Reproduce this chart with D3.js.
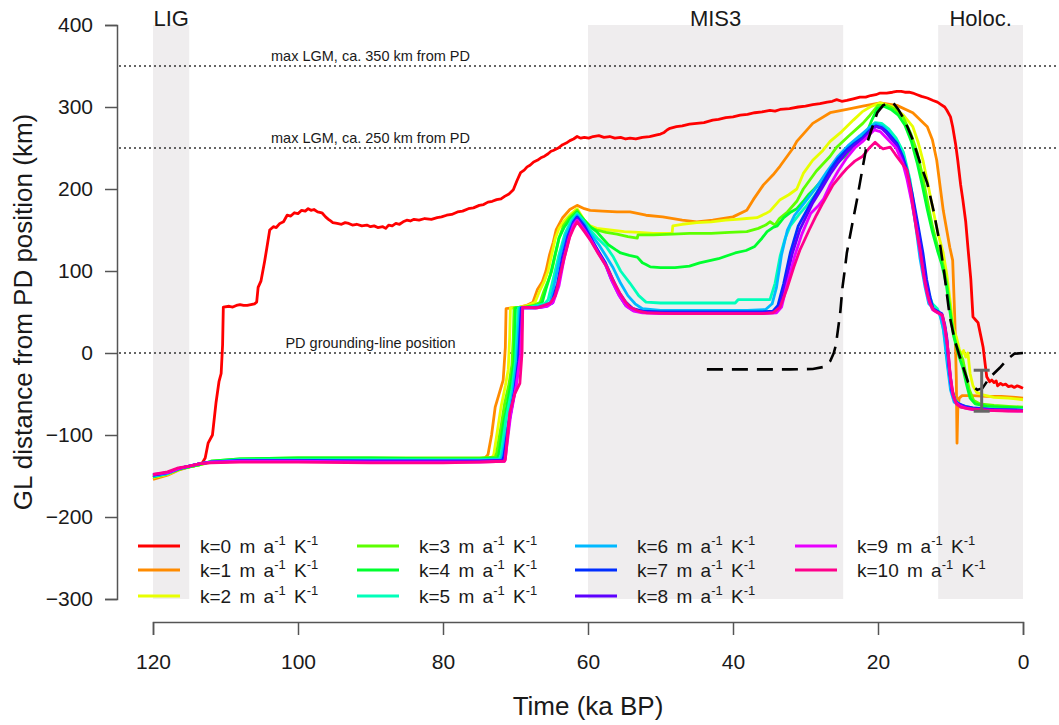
<!DOCTYPE html>
<html><head><meta charset="utf-8">
<script src="https://cdn.jsdelivr.net/npm/d3@7"></script>
<style>body{margin:0;background:#fff} svg{display:block} text{font-family:"Liberation Sans",Arial,Helvetica,sans-serif;fill:#1a1a1a}</style>
</head><body><svg id="c" width="1059" height="725"></svg>
<script>
// ---------------- DATA ----------------
const kValues = [0,1,2,3,4,5,6,7,8,9,10];
const seriesColors = ["#FF0000","#FF8B00","#E8FF00","#5DFF00","#00FF2E","#00FFB9","#00B9FF","#002EFF","#5D00FF","#E800FF","#FF008B"];

const gl_k0 = [[120,-152],[118.5,-148],[117,-143],[116,-140],[114.5,-138],[113.2,-134],[112.8,-128],[112.4,-110],[111.8,-100],[111.3,-60],[110.9,-35],[110.6,-25],[110.4,10],[110.3,56],[109.5,57],[109,56],[108.5,58],[108,59],[107.5,58],[107,58],[106.5,59],[106,60],[105.7,62],[105.5,80],[105.1,88],[104.6,112],[104.3,128],[103.9,150],[103.4,154],[103,153],[102.5,158],[102,160],[101.5,168],[101,167],[100.5,171],[100,170],[99.5,174],[99,173],[98.6,176],[98.2,174],[97.8,175],[97.3,172],[96.7,171],[96.2,166],[95.8,163],[95.5,161],[95.2,159],[94.6,158],[94,157],[93.5,159],[93,158],[92.5,156],[91.9,157],[91.2,155],[90.5,156],[90,154],[89.5,155],[89,153],[88.3,154],[87.9,152],[87.5,156],[87,155],[86.5,158],[86,157],[85.5,160],[85,162],[84.5,161],[84,163],[83.3,162],[82.5,164],[81.6,163],[80.8,165],[80.2,166],[79.5,168],[78.8,169],[78,172],[77.3,173],[76.5,176],[75.8,177],[75,180],[74.4,181],[73.8,184],[73.2,185],[72.6,187],[72,188],[71.5,191],[70.9,194],[70.3,199],[69.8,210],[69.3,220],[68.8,223],[68.4,227],[68,229],[67.5,233],[67,235],[66.5,238],[66,240],[65.5,243],[65.1,246],[64.8,247],[64.1,250],[63.5,254],[63,256],[62.5,259],[62,261],[61.5,264],[61,262],[60.5,263],[59.9,262],[59.3,264],[58.5,265],[57.8,263],[57,264],[56.3,262],[55.5,263],[54.8,261],[54.2,262],[53.4,261],[52.5,263],[51.5,264],[50.5,266],[50,267],[49.5,269],[49.1,272],[48.7,274],[47.8,276],[47,277],[46,279],[45,280],[44,281],[42.8,284],[42,285],[41,287],[40,288],[39,290],[38,291],[37,293],[36,294],[34.9,296],[34.2,295],[33.5,297],[32.2,298],[31,300],[30,301],[29,303],[28,304],[27,306],[26.3,307],[25.7,309],[25,307],[24.3,308],[23.4,310],[22.5,312],[21.7,312],[21,314],[20.3,315],[19.7,317],[18.8,317],[18,318],[17.4,319],[16.8,319],[16.3,318],[15.7,318],[15.2,317],[14.6,315],[14,313],[13.2,311],[12.4,308],[11.8,306],[11.3,303],[10.8,300],[10.5,296],[10,288],[9.7,276],[9.3,255],[9.0,235],[8.6,205],[8.3,187],[7.9,160],[7.6,129],[7.2,90],[6.9,44],[6.5,40],[6.2,37],[5.8,20],[5.5,7],[5.2,-15],[5.0,-29],[4.6,-35],[4.3,-33],[4.0,-36],[3.7,-34],[3.5,-40],[3.1,-37],[2.8,-39],[2.4,-38],[2.0,-41],[1.6,-40],[1.2,-42],[0.8,-40],[0.5,-41],[0,-43]];

const gl_k1 = [[120,-154],[118,-149],[116.5,-143],[115,-139],[113.5,-136],[112,-133],[108,-131],[104,-130],[100,-130],[95,-130],[90,-131],[85,-131],[80,-131],[76,-130],[74.2,-128],[73.8,-124],[73.3,-100],[72.8,-66],[72.2,-48],[71.7,-33],[71.4,7],[71.3,54],[70.5,55],[69.4,56],[68.5,58],[67.6,62],[67.0,77],[66.3,87],[65.8,100],[65.3,120],[64.8,135],[64.4,150],[63.5,165],[62.5,175],[61.5,180],[60.5,176],[59.7,174],[58,173],[56,172],[54.2,172],[52,168],[49.7,166],[47,162],[45,160],[42.8,162],[40,166],[38.1,174],[37.2,187],[35.8,205],[34.5,217],[33.5,228],[31.7,250],[31.2,258],[29,280],[26.6,293],[24.3,297],[22.1,301],[19.7,305],[17.4,302],[15.2,293],[13.2,276],[12.5,260],[11.9,235],[11.0,174],[10.1,129],[9.7,113],[9.4,40],[9.2,-30],[9.1,-110],[9.0,-70],[8.8,-55],[8.4,-52],[7,-52],[5,-53],[3,-53],[1,-54],[0,-55]];

const gl_k2 = [[120,-152],[118,-148],[116.5,-142],[115,-139],[113.5,-136],[112,-133],[108,-131],[100,-130],[90,-130],[80,-130],[75,-130],[73.3,-128],[73.0,-124],[72.5,-95],[72,-66],[71.4,-40],[71.0,-20],[70.8,20],[70.7,55],[69.5,56],[68.3,58],[67.3,62],[66.7,75],[66,88],[65.5,100],[65,120],[64.5,140],[64,152],[63.2,162],[62.3,170],[61.5,176],[60.5,162],[59.7,155],[58.8,152],[57,150],[55,148],[53,147],[51,146],[48.4,146],[48.3,155],[47,157],[45,159],[43,160],[41,162],[39.5,163],[38.1,164],[36.7,165],[35.5,170],[34.9,173],[33.5,187],[32.3,193],[31.2,200],[30.3,219],[29,235],[27.6,247],[26.6,258],[25,270],[23.4,284],[22.2,294],[21.1,300],[19.7,305],[17.9,300],[16.5,290],[15.2,276],[14.5,258],[13.8,235],[13.1,205],[12.4,174],[11.7,145],[11.0,122],[10.5,95],[10,60],[9.6,30],[9.2,20],[8.8,5],[8.5,-2],[8.2,3],[7.9,-5],[7.6,0],[7.3,-25],[6.9,-40],[6.4,-48],[5.5,-51],[4,-54],[2,-55],[0,-57]];

const gl_k3 = [[120,-151],[118,-147],[116.5,-142],[115,-139],[113.5,-136],[112,-132],[108,-129],[100,-128],[90,-128],[80,-128],[75,-128],[72.8,-127],[72.6,-122],[72.0,-90],[71.5,-62],[70.9,-38],[70.5,-15],[70.3,20],[70.2,55],[68.8,56],[67.5,58],[66.6,62],[66.1,75],[65.5,88],[65,100],[64.5,120],[64,140],[63.4,155],[62.6,165],[61.5,174],[60.5,160],[59.7,153],[58.8,150],[57.5,147],[56,145],[54.5,142],[53.2,140],[53.1,144],[51,144],[48.3,145],[46,146],[43,146],[40.5,147],[38.1,148],[36.5,152],[35.5,156],[34.9,160],[34.2,156],[33.6,164],[32.5,172],[31.2,185],[30.3,200],[28.5,222],[26.6,240],[25.7,251],[24,265],[22.1,280],[21.1,290],[20,302],[18.8,302],[17.6,297],[16.5,287],[15.5,268],[14.6,245],[13.9,218],[13.2,186],[12.5,155],[11.8,130],[11.1,110],[10.5,85],[10,50],[9.5,20],[9.1,8],[8.7,0],[8.3,-8],[7.9,-25],[7.4,-45],[6.8,-58],[6,-62],[4,-64],[2,-65],[0,-66]];

const gl_k4 = [[120,-151],[118,-147],[116.5,-142],[115,-139],[113.5,-136],[112,-132],[108,-129],[100,-128],[90,-128],[80,-129],[75,-129],[72.5,-128],[72.3,-123],[71.7,-88],[71.1,-60],[70.6,-35],[70.2,-10],[70.0,55],[68.5,56],[67,58],[66.3,62],[65.8,78],[65.2,95],[64.6,118],[64,140],[63.3,153],[62.5,163],[61.5,172],[60.5,162],[59.7,154],[58.8,148],[58,140],[57.2,132],[56.2,126],[55.5,122],[54.3,119],[53.2,117],[52.5,110],[52,108],[51.4,105],[50,104],[48,104],[46,106],[44.6,110],[42,115],[39.7,122],[38.2,125],[37,130],[36,140],[35.3,148],[34.5,153],[33.9,155],[33,165],[32,172],[31.2,176],[30.2,186],[29.5,194],[28.8,200],[27.6,212],[26.6,222],[25.5,233],[24.5,240],[23.5,248],[22.5,257],[21.6,268],[20.8,285],[20.1,298],[19.2,301],[18.2,297],[17.2,290],[16.3,278],[15.4,258],[14.6,232],[13.9,205],[13.2,175],[12.5,148],[11.8,125],[11.2,108],[10.6,85],[10.1,52],[9.6,22],[9.2,8],[8.8,-5],[8.3,-18],[7.8,-38],[7.3,-55],[6.6,-62],[5,-65],[3,-66],[0,-67]];

const gl_k5 = [[120,-150],[118,-147],[116.5,-141],[115,-138],[113.5,-135],[112,-133],[108,-130],[100,-130],[90,-130],[80,-130],[75,-130],[72.2,-129],[72.0,-124],[71.3,-80],[70.5,-45],[70.0,-10],[69.6,55],[68,56],[66,60],[65.5,65],[64.8,90],[64,120],[63.2,145],[62.3,162],[61.5,170],[60.5,160],[59.7,150],[58.7,140],[57.5,130],[56.5,117],[55.5,100],[54.2,85],[53,70],[52,62],[50,61],[47,61],[44,61],[41,61],[39.7,61],[39.3,65],[36,65],[34.9,65],[34.2,85],[33.5,118],[32.8,140],[32.1,155],[30.8,170],[29.8,180],[28.5,195],[27,215],[25.5,235],[24,250],[22.5,262],[21.2,274],[20.4,281],[19.5,280],[18.5,273],[17.5,262],[16.5,245],[15.6,212],[14.9,172],[14.3,132],[13.7,100],[13.1,75],[12.5,60],[11.8,54],[11.3,42],[10.8,20],[10.3,-20],[9.8,-45],[9.3,-58],[8.5,-64],[7,-67],[5,-68],[2,-69],[0,-69]];

const gl_k6 = [[120,-150],[118,-147],[116.5,-141],[115,-138],[113.5,-135],[112,-133],[108,-131],[100,-131],[90,-131],[80,-131],[75,-131],[72,-130],[71.8,-125],[71,-85],[70.3,-45],[69.8,-10],[69.4,55],[67.5,56],[66,58],[65.2,62],[64.5,90],[63.8,120],[63,145],[62.2,160],[61.5,168],[60.5,158],[59.7,146],[58.5,132],[57.5,118],[56.6,105],[55.5,85],[54.5,70],[53.5,60],[52.5,54],[50,52],[46,52],[42,52],[38,52],[35.5,53],[34.6,60],[34,80],[33.3,120],[32.5,150],[31.5,168],[30,185],[28.5,202],[27,222],[25.5,240],[24,254],[22.5,265],[21.2,275],[20.3,280],[19.3,276],[18.2,265],[17.2,252],[16.3,230],[15.5,195],[14.8,155],[14.2,115],[13.5,80],[13,60],[12.2,53],[11.5,48],[11,30],[10.5,-10],[10,-45],[9.5,-60],[8.5,-66],[7,-68],[4,-69],[0,-70]];

const gl_k7 = [[120,-149],[118,-146],[116.5,-141],[115,-138],[113.5,-135],[112,-133],[108,-131],[100,-131],[90,-132],[80,-132],[75,-132],[71.8,-131],[71.6,-126],[70.9,-85],[70.1,-45],[69.6,-10],[69.2,55],[67.3,55],[66,57],[65,61],[64.2,85],[63.5,118],[62.8,142],[62,160],[61.5,166],[60.5,155],[59.7,142],[58.7,126],[57.6,110],[56.7,92],[55.8,75],[54.8,62],[53.8,54],[52.5,51],[50,50],[45,50],[40,50],[36,50],[34.5,51],[33.8,58],[33,85],[32.1,122],[31,155],[29,187],[27.8,205],[26.6,223],[25.5,237],[24.3,248],[23.2,256],[22.1,263],[21.1,272],[20.3,277],[19.5,275],[18.8,270],[17.4,256],[16.6,240],[16,223],[15.3,195],[14.6,162],[13.8,122],[13.3,90],[12.8,68],[12.4,54],[11.8,51],[11.2,48],[10.8,35],[10.5,18],[10.2,-15],[9.8,-45],[9.4,-57],[9.1,-61],[8,-65],[6.9,-67],[4,-69],[0,-70]];

const gl_k8 = [[120,-149],[118,-146],[116.5,-141],[115,-138],[113.5,-135],[112,-133],[108,-132],[100,-132],[90,-132],[80,-132],[75,-132],[71.6,-131],[71.5,-127],[70.8,-80],[70,-42],[69.4,-5],[69.1,55],[67.2,55],[65.8,57],[64.9,61],[64.1,85],[63.4,118],[62.7,142],[62,158],[61.5,164],[60.5,152],[59.7,140],[58.6,124],[57.6,108],[56.8,90],[55.8,72],[54.8,58],[53.8,52],[52.5,50],[50,49],[45,49],[40,49],[36,49],[34.2,50],[33.5,58],[32.7,88],[31.8,122],[30.8,150],[29,183],[27.8,200],[26.6,218],[25.5,232],[24.3,245],[23.2,254],[22.1,261],[21.1,270],[20.3,276],[19.5,274],[18.8,268],[17.4,253],[16.6,236],[16,218],[15.3,190],[14.6,155],[13.9,118],[13.4,88],[12.9,66],[12.5,54],[11.8,50],[11.2,47],[10.8,32],[10.5,15],[10.2,-18],[9.8,-47],[9.4,-58],[9,-62],[8,-66],[6.9,-68],[4,-69],[0,-70]];

const gl_k9 = [[120,-148],[118,-146],[116.5,-141],[115,-138],[113.5,-135],[112,-133],[108,-132],[100,-132],[90,-133],[80,-133],[75,-133],[71.5,-132],[71.4,-128],[70.7,-78],[69.9,-40],[69.3,-2],[69.0,55],[67,55],[65.6,57],[64.8,62],[64,82],[63.3,115],[62.6,140],[62,156],[61.5,162],[60.5,150],[59.7,139],[58.6,122],[57.5,106],[56.7,88],[55.7,70],[54.7,57],[53.7,51],[52.5,49],[50,48],[45,48],[40,48],[36,48],[34,49],[33.3,56],[32.5,85],[31.5,118],[30.5,145],[29.3,170],[28.2,180],[27.5,188],[26.6,205],[25.5,222],[24.3,238],[23.2,250],[22.1,258],[21.2,266],[20.5,272],[19.7,270],[18.8,262],[17.5,250],[16.6,232],[16,212],[15.3,182],[14.6,148],[14,112],[13.5,84],[13,64],[12.5,53],[11.8,49],[11.2,46],[10.8,30],[10.4,8],[10.1,-22],[9.7,-50],[9.3,-60],[8.8,-64],[8,-67],[6.9,-69],[4,-70],[0,-71]];

const gl_k10 = [[120,-148],[118,-145],[116.5,-140],[115,-138],[113.5,-135],[112,-134],[108,-133],[100,-133],[90,-134],[80,-134],[75,-133],[71.5,-132],[71.4,-130],[70.8,-73],[70.1,-50],[69.4,-37],[69.1,0],[69.0,56],[67,55],[65.2,61],[64.5,70],[63.9,93],[63.3,115],[62.5,142],[62,152],[61.5,160],[60.5,148],[59.7,138],[58.5,120],[57.4,105],[56.5,88],[55.6,73],[54.8,62],[54.2,56],[53,51],[51.9,49],[48,48],[44,48],[40,48],[36,48],[34.5,49],[33.5,56],[32.5,80],[31.6,105],[30.8,125],[29.5,150],[28.5,168],[27.6,183],[26.2,205],[25,218],[24.3,225],[23.2,234],[22.1,240],[21.2,250],[20.4,257],[19.8,252],[19.3,249],[18.3,251],[17.6,242],[17,235],[16,223],[15.5,200],[15.2,180],[14.7,150],[14.2,126],[13.7,95],[13.2,72],[12.8,60],[12.3,52],[11.7,49],[11.1,46],[10.7,28],[10.3,0],[10,-30],[9.6,-52],[9.2,-62],[8.6,-66],[7.5,-68],[5,-70],[2,-71],[0,-71]];

const glSeries = [gl_k0,gl_k1,gl_k2,gl_k3,gl_k4,gl_k5,gl_k6,gl_k7,gl_k8,gl_k9,gl_k10];

// reconstruction (black dashed)
const reconstruction = [[43.6,-20],[38,-20],[32.1,-20],[29,-19.5],[27.5,-17],[26.6,-10],[26.1,0],[25.8,10],[25.5,30],[25.2,50],[24.9,80],[24.6,100],[24.3,122],[23.6,155],[22.9,187],[22.2,222],[21.5,256],[20.8,275],[20.1,293],[19.3,302],[18.6,305],[17.9,305],[17.2,297],[16.6,288],[15.9,275],[15.2,260],[14.2,232],[13.2,207],[12.3,172],[11.4,130],[10.9,100],[10.1,44],[9.4,15],[8.7,-5],[7.6,-35],[6.3,-45],[5.6,-43],[4.6,-30],[3.2,-18],[2.2,-8],[1.2,-1],[0,0]];

// error bar
const errorBarTime = [5.7];
const errorBarLow = [-71];
const errorBarHigh = [-21];

// periods (shaded)
const periodNames = ["LIG","MIS3","Holoc."];
const periodStart = [120,60,11.7];
const periodEnd = [115,24.8,0];

// reference lines
const refValues = [350,250,0];
const refLabels = ["max LGM, ca. 350 km from PD","max LGM, ca. 250 km from PD","PD grounding-line position"];
const refLabelTime = 90;

const xTicks = [120,100,80,60,40,20,0];
const yTicks = [400,300,200,100,0,-100,-200,-300];

// ---------------- DRAW ----------------
const svg = d3.select("#c");
const x = d3.scaleLinear().domain([120,0]).range([153,1023]);
const y = d3.scaleLinear().domain([-300,400]).range([599,25]);

// shaded periods
svg.append("g").selectAll("rect").data(periodNames).join("rect")
  .attr("x",(d,i)=>x(periodStart[i]))
  .attr("width",(d,i)=>x(periodEnd[i])-x(periodStart[i]))
  .attr("y",y(400)).attr("height",y(-300)-y(400))
  .attr("fill","#efedee");
svg.append("g").selectAll("text").data(periodNames).join("text")
  .attr("x",(d,i)=>(x(periodStart[i])+x(periodEnd[i]))/2)
  .attr("y",26).attr("text-anchor","middle")
  .attr("font-size",22).text(d=>d);

// reference dotted lines
svg.append("g").selectAll("line").data(refValues).join("line")
  .attr("x1",119).attr("x2",1059)
  .attr("y1",d=>y(d)).attr("y2",d=>y(d))
  .attr("stroke","#333").attr("stroke-width",1.3).attr("stroke-dasharray","2,3");
svg.append("g").selectAll("text").data(refLabels).join("text")
  .attr("x",x(refLabelTime)).attr("y",(d,i)=>y(refValues[i])-5)
  .attr("text-anchor","middle").attr("font-size",14.5).text(d=>d);

// series
const line = d3.line().x(d=>x(d[0])).y(d=>y(d[1]));
svg.append("g").selectAll("path").data(glSeries).join("path")
  .attr("d",line).attr("fill","none")
  .attr("stroke",(d,i)=>seriesColors[i]).attr("stroke-width",2.8)
  .attr("stroke-linejoin","round");

// reconstruction
svg.append("path").datum(reconstruction).attr("d",line).attr("fill","none")
  .attr("stroke","#000").attr("stroke-width",2.6).attr("stroke-dasharray","16,9");

// error bar
const eb = svg.append("g").attr("stroke","#666").attr("stroke-width",3);
errorBarTime.forEach((t,i)=>{
  eb.append("line").attr("x1",x(t)).attr("x2",x(t)).attr("y1",y(errorBarLow[i])).attr("y2",y(errorBarHigh[i]));
  eb.append("line").attr("x1",x(t)-8).attr("x2",x(t)+8).attr("y1",y(errorBarLow[i])).attr("y2",y(errorBarLow[i]));
  eb.append("line").attr("x1",x(t)-8).attr("x2",x(t)+8).attr("y1",y(errorBarHigh[i])).attr("y2",y(errorBarHigh[i]));
});

// axes
const yAxis = svg.append("g").attr("transform","translate(117,0)")
  .call(d3.axisLeft(y).tickValues(yTicks).tickSize(12).tickPadding(12));
yAxis.selectAll("text").attr("font-size",21).attr("font-family","Liberation Sans, Arial, sans-serif").attr("fill","#1a1a1a");
const xAxis = svg.append("g").attr("transform","translate(0,622)")
  .call(d3.axisBottom(x).tickValues(xTicks).tickSize(13).tickPadding(19));
xAxis.selectAll("text").attr("font-size",21).attr("font-family","Liberation Sans, Arial, sans-serif").attr("fill","#1a1a1a");
[yAxis,xAxis].forEach(a=>{a.selectAll("path,line").attr("stroke","#555").attr("stroke-width",1.5);});

svg.append("text").attr("x",x(60)).attr("y",715).attr("text-anchor","middle")
  .attr("font-size",26).text("Time (ka BP)");
svg.append("text").attr("transform","translate(32,312) rotate(-90)").attr("text-anchor","middle")
  .attr("font-size",26).text("GL distance from PD position (km)");

// legend
const legCols = [138,357,575,795];
const legRows = [546,570,596];
kValues.forEach((k,i)=>{
  const col = Math.floor(i/3), row = i%3;
  const g = svg.append("g");
  g.append("line").attr("x1",legCols[col]).attr("x2",legCols[col]+42)
    .attr("y1",legRows[row]).attr("y2",legRows[row])
    .attr("stroke",seriesColors[i]).attr("stroke-width",2.8);
  const t = g.append("text").attr("x",legCols[col]+62).attr("y",legRows[row]+7)
    .attr("font-size",19).attr("word-spacing",3);
  t.append("tspan").text("k="+k+" m a");
  t.append("tspan").attr("dy",-8).attr("font-size",13).text("-1");
  t.append("tspan").attr("dy",8).text(" K");
  t.append("tspan").attr("dy",-8).attr("font-size",13).text("-1");
});
</script>
</body></html>
